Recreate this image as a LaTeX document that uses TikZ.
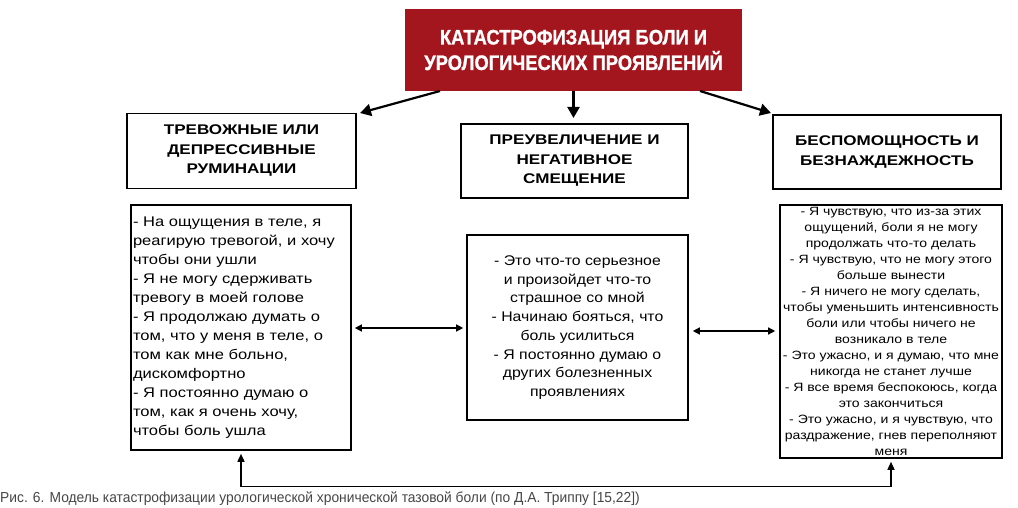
\documentclass[tikz,border=0pt]{standalone}
\usepackage{fontspec}
\setmainfont{Liberation Sans}
\newfontfamily\headfont[FakeStretch=1.22]{Liberation Sans}
\newfontfamily\leftfont[FakeStretch=1.18]{Liberation Sans}
\newfontfamily\midfont[FakeStretch=1.13]{Liberation Sans}
\newfontfamily\rightfont[FakeStretch=1.17]{Liberation Sans}
\newfontfamily\titlefont[BoldFeatures={FakeBold=1.2}]{Liberation Sans}
\usetikzlibrary{arrows.meta}
\definecolor{titlered}{RGB}{163,22,30}
\definecolor{captiongray}{RGB}{70,70,70}
\begin{document}
\begin{tikzpicture}[x=1pt,y=-1pt,
  box/.style={draw=black,line width=1.6pt,rectangle,inner sep=0pt},
  headbox/.style={box,align=center,font=\headfont\bfseries\fontsize{14}{19.5}\selectfont},
  bigarrow/.style={line width=2.2pt,-{Triangle[length=11pt,width=12pt]}},
  dblarrow/.style={line width=1.3pt,{Triangle[length=7pt,width=7pt]}-{Triangle[length=7pt,width=7pt]}},
  loopline/.style={line width=1.5pt,{Triangle[length=8pt,width=7pt]}-{Triangle[length=8pt,width=7pt]}},
]
\useasboundingbox (0,0) rectangle (1018,508);

% title
\node[fill=titlered,inner sep=0pt,minimum width=337pt,minimum height=82pt,
      text=white,align=center,font=\titlefont\bfseries\fontsize{21}{25.5}\selectfont] (title) at (573.5,50)
  {\scalebox{0.876}[1]{КАТАСТРОФИЗАЦИЯ БОЛИ И}\\\scalebox{0.875}[1]{УРОЛОГИЧЕСКИХ ПРОЯВЛЕНИЙ}};

% headers
\node[headbox,minimum width=229pt,minimum height=75pt] (lh) at (241.5,151)
  {ТРЕВОЖНЫЕ ИЛИ\\ДЕПРЕССИВНЫЕ\\РУМИНАЦИИ};
\node[headbox,minimum width=227pt,minimum height=74pt] (mh) at (574.5,161)
  {ПРЕУВЕЛИЧЕНИЕ И\\НЕГАТИВНОЕ\\СМЕЩЕНИЕ};
\node[headbox,minimum width=228pt,minimum height=74pt] (rh) at (887,152)
  {БЕСПОМОЩНОСТЬ И\\БЕЗНАЖДЕЖНОСТЬ};

% bodies
\node[box,minimum width=220pt,minimum height=245pt,text width=216pt,align=left,
      font=\leftfont\fontsize{14}{19}\selectfont] (lb) at (241,327.5)
  {- На ощущения в теле, я\\реагирую тревогой, и хочу\\чтобы они ушли\\- Я не могу сдерживать\\тревогу в моей голове\\- Я продолжаю думать о\\том, что у меня в теле, о\\том как мне больно,\\дискомфортно\\- Я постоянно думаю о\\том, как я очень хочу,\\чтобы боль ушла};
\node[box,minimum width=221pt,minimum height=185pt,align=center,
      font=\midfont\fontsize{14}{18.75}\selectfont] (mb) at (577.5,327.5)
  {- Это что-то серьезное\\и произойдет что-то\\страшное со мной\\- Начинаю бояться, что\\боль усилиться\\- Я постоянно думаю о\\других болезненных\\проявлениях};
\node[box,minimum width=222pt,minimum height=253pt,align=center,
      font=\rightfont\fontsize{12}{16}\selectfont] (rb) at (891,331.5)
  {- Я чувствую, что из-за этих\\ощущений, боли я не могу\\продолжать что-то делать\\- Я чувствую, что не могу этого\\больше вынести\\- Я ничего не могу сделать,\\чтобы уменьшить интенсивность\\боли или чтобы ничего не\\возникало в теле\\- Это ужасно, и я думаю, что мне\\никогда не станет лучше\\- Я все время беспокоюсь, когда\\это закончиться\\- Это ужасно, и я чувствую, что\\раздражение, гнев переполняют\\меня};

% arrows from title
\coordinate (tl) at (440,91);
\coordinate (tm) at (573.5,91);
\coordinate (tr) at (700,91);
\coordinate (lhtip) at (360,113);
\coordinate (mhtip) at (573.5,118);
\coordinate (rhtip) at (771,113);
\draw[bigarrow] (tl) -- (lhtip);
\draw[bigarrow] (tm) -- (mhtip);
\draw[bigarrow] (tr) -- (rhtip);

% double arrows
\draw[dblarrow] ([xshift=3pt]lb.east |- 0,328) -- ([xshift=-3pt]mb.west |- 0,328);
\draw[dblarrow] ([xshift=4pt]mb.east |- 0,331) -- ([xshift=-4pt]rb.west |- 0,331);

% bottom loop
\draw[loopline] ([yshift=-3pt]lb.south -| 241,0) -- (241,486.5) -- (891,486.5) -- ([yshift=-3pt]rb.south -| 891,0);

% caption
\node[anchor=west,inner sep=0pt,text=captiongray,font=\fontsize{14.5}{16}\selectfont] (cap) at (0,498.5)
  {\scalebox{0.952}[1]{Рис. 6. Модель катастрофизации урологической хронической тазовой боли (по Д.А. Триппу [15,22])}};
\end{tikzpicture}
\end{document}
